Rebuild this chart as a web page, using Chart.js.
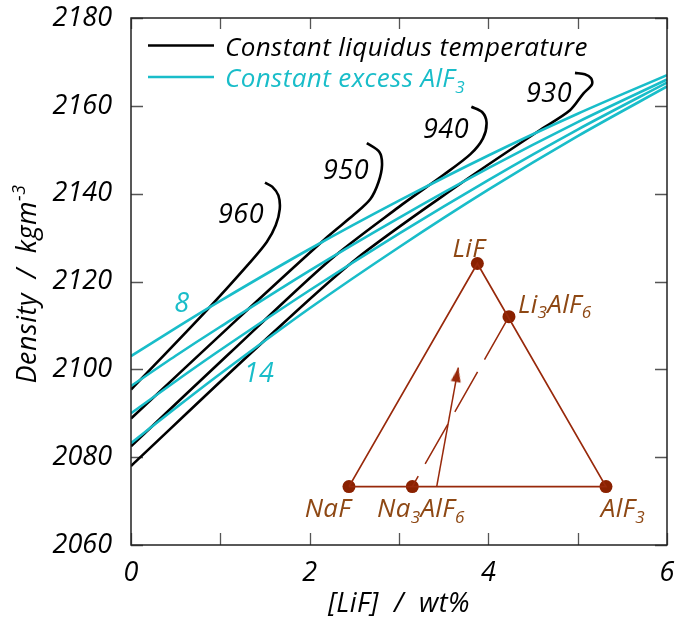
<!DOCTYPE html>
<html>
<head>
<meta charset="utf-8">
<script src="https://cdn.jsdelivr.net/npm/chart.js@4.4.1/dist/chart.umd.min.js"></script>
<style>
  html, body { margin: 0; padding: 0; background: #fff; }
  canvas { display: block; }
</style>
</head>
<body>
<canvas id="graf" width="675" height="617"></canvas>
<script>
// axes
const xTicks = [0, 1, 2, 3, 4, 5, 6];
const xTickLabels = [0, 2, 4, 6];
const yTicks = [2060, 2080, 2100, 2120, 2140, 2160, 2180];

// constant liquidus temperature (black), [LiF] wt% vs density
const t960X = [0, 0.85, 1.33, 1.52, 1.62, 1.665, 1.65, 1.58, 1.5];
const t960Y = [2095.4, 2113.5, 2124.3, 2129, 2132.8, 2136.5, 2139.6, 2141.6, 2142.5];
const t950X = [0, 1.2, 2.2, 2.5, 2.68, 2.77, 2.81, 2.78, 2.64];
const t950Y = [2088.8, 2111.6, 2130.2, 2135.3, 2138.8, 2142.6, 2146.5, 2149.5, 2151.5];
const t940X = [0, 1.1, 2.228, 3.0, 3.5, 3.8, 3.94, 3.98, 3.93, 3.81];
const t940Y = [2082.5, 2103.6, 2124.9, 2137.0, 2144.3, 2149.0, 2152.6, 2156.2, 2158.6, 2159.8];
const t930X = [0, 1.422, 2.5, 3.683, 4.579, 4.914, 5.063, 5.16, 5.15, 5.08, 4.97];
const t930Y = [2078, 2105.2, 2124.8, 2142.2, 2154.5, 2159, 2162.8, 2164.9, 2166.3, 2167.2, 2167.5];
const tempLabels = ['960', '950', '940', '930'];
const tempLabelX = [1.231, 2.407, 3.526, 4.679];
const tempLabelY = [2135.6, 2145.6, 2154.9, 2163.1];

// constant excess AlF3 (cyan)
const exX = [0, 0.5, 1, 2, 3, 4, 5, 6];
const ex8Y = [2103, 2109.4, 2115.6, 2127.4, 2138.4, 2148.7, 2158.2, 2167];
const ex10Y = [2096.2, 2103.1, 2109.7, 2122.5, 2134.5, 2145.8, 2156.3, 2166];
const ex12Y = [2090, 2097.3, 2104.4, 2118.0, 2130.9, 2143.1, 2154.6, 2165.3];
const ex14Y = [2083.2, 2091.2, 2099.0, 2113.9, 2127.8, 2140.9, 2153.1, 2164.4];
const excessLabels = ['8', '14'];
const excessLabelX = [0.571, 1.433];
const excessLabelY = [2115.2, 2099.4];

// ternary inset NaF - LiF - AlF3
const triX = [2.44, 3.877, 5.317, 2.44];
const triY = [2073.3, 2124.1, 2073.3, 2073.3];
const dotX = [2.44, 3.149, 5.317, 3.877, 4.231];
const dotY = [2073.3, 2073.3, 2073.3, 2124.1, 2112.0];
const joinX = [3.149, 4.231];
const joinY = [2073.3, 2112.0];
const arrowX = [3.422, 3.664];
const arrowY = [2073.3, 2100.4];
const triLabels = ['LiF', 'Li_{3}AlF_{6}', 'NaF', 'Na_{3}AlF_{6}', 'AlF_{3}'];
const triLabelX = [3.78, 4.743, 2.204, 3.245, 5.506];
const triLabelY = [2127.7, 2115.0, 2068.5, 2068.5, 2068.5];

const legendLabels = ['Constant liquidus temperature', 'Constant excess AlF_{3}'];
const xTitle = '[LiF]  /  wt%';
const yTitle = 'Density  /  kgm^{-3}';

const BLACK = '#000000';
const CYAN = '#19BDC9';
const BROWN = '#98290B';
const DOT = '#8A2100';
const TEXTBROWN = '#8E4814';
const FONT = '"Open Sans"';

function pts(xs, ys) { return xs.map((x, i) => ({ x: x, y: ys[i] })); }

// splits "AlF_{3}" into pieces: 0 normal, -1 sub, 1 sup
function parts(str) {
  const out = [];
  const re = /([_^])\{([^}]*)\}/g;
  let last = 0, m;
  while ((m = re.exec(str)) !== null) {
    if (m.index > last) out.push([str.slice(last, m.index), 0]);
    out.push([m[2], m[1] === '_' ? -1 : 1]);
    last = re.lastIndex;
  }
  if (last < str.length) out.push([str.slice(last), 0]);
  return out;
}

function richWidth(ctx, str, size) {
  let w = 0;
  for (const [t, mode] of parts(str)) {
    ctx.font = 'italic ' + (mode ? size * 0.66 : size) + 'px ' + FONT;
    w += ctx.measureText(t).width;
  }
  return w;
}

function drawRich(ctx, str, x, y, size, align, spacing) {   // y = baseline
  ctx.letterSpacing = (spacing || 0) + 'px';
  const w = richWidth(ctx, str, size);
  let cx = align === 'center' ? x - w / 2 : align === 'right' ? x - w : x;
  ctx.textAlign = 'left';
  ctx.textBaseline = 'alphabetic';
  for (const [t, mode] of parts(str)) {
    const s = mode ? size * 0.66 : size;
    ctx.font = 'italic ' + s + 'px ' + FONT;
    const dy = mode === -1 ? size * 0.22 : mode === 1 ? -size * 0.4 : 0;
    ctx.fillText(t, cx, y + dy);
    cx += ctx.measureText(t).width;
  }
  ctx.letterSpacing = '0px';
}

// arrow head as an image point style, tip at the centre
const head = document.createElement('canvas');
head.width = 11; head.height = 30;
(function () {
  const c = head.getContext('2d');
  c.fillStyle = BROWN;
  c.beginPath();
  c.moveTo(5.5, 15);
  c.lineTo(10.5, 29.5);
  c.lineTo(0.5, 29.5);
  c.closePath();
  c.fill();
})();

const framePlugin = {
  id: 'frame',
  beforeDatasetsDraw(chart) {
    const ctx = chart.ctx, a = chart.chartArea;
    const sx = chart.scales.x, sy = chart.scales.y;
    ctx.save();
    ctx.strokeStyle = '#555';
    ctx.lineWidth = 1.3;
    ctx.beginPath();
    xTicks.forEach(v => {
      const p = Math.round(sx.getPixelForValue(v)) + 0.5;
      ctx.moveTo(p, a.bottom); ctx.lineTo(p, a.bottom - 12);
      ctx.moveTo(p, a.top); ctx.lineTo(p, a.top + 11);
    });
    yTicks.forEach(v => {
      const p = Math.round(sy.getPixelForValue(v)) + 0.5;
      ctx.moveTo(a.left, p); ctx.lineTo(a.left + 12, p);
      ctx.moveTo(a.right, p); ctx.lineTo(a.right - 12, p);
    });
    ctx.stroke();
    ctx.restore();
  },
  afterDatasetsDraw(chart) {
    const ctx = chart.ctx, a = chart.chartArea;
    const sx = chart.scales.x, sy = chart.scales.y;
    ctx.save();
    // frame
    ctx.strokeStyle = '#222';
    ctx.lineWidth = 1.5;
    ctx.strokeRect(a.left, a.top, a.right - a.left, a.bottom - a.top);

    // legend
    const legColors = [BLACK, CYAN];
    legendLabels.forEach((lab, i) => {
      const ly = a.top + 27.5 + i * 31.5;
      ctx.strokeStyle = legColors[i];
      ctx.lineWidth = 2.6;
      ctx.beginPath();
      ctx.moveTo(a.left + 17, ly); ctx.lineTo(a.left + 83, ly);
      ctx.stroke();
      ctx.fillStyle = legColors[i];
      drawRich(ctx, lab, a.left + 94, ly + 10, 26, 'left', 0.4);
    });

    // curve labels
    ctx.fillStyle = BLACK;
    tempLabels.forEach((lab, i) => {
      drawRich(ctx, lab, sx.getPixelForValue(tempLabelX[i]), sy.getPixelForValue(tempLabelY[i]) + 9.6, 27, 'center', 0.5);
    });
    ctx.fillStyle = CYAN;
    excessLabels.forEach((lab, i) => {
      drawRich(ctx, lab, sx.getPixelForValue(excessLabelX[i]), sy.getPixelForValue(excessLabelY[i]) + 9.6, 27, 'center', 0.5);
    });

    // inset labels
    ctx.fillStyle = TEXTBROWN;
    triLabels.forEach((lab, i) => {
      drawRich(ctx, lab, sx.getPixelForValue(triLabelX[i]), sy.getPixelForValue(triLabelY[i]) + 9.2, 26, 'center', 0.3);
    });

    // axis titles
    ctx.fillStyle = BLACK;
    drawRich(ctx, xTitle, (a.left + a.right) / 2, 612, 27, 'center', 0.5);
    ctx.translate(36, 284);
    ctx.rotate(-Math.PI / 2);
    drawRich(ctx, yTitle, 0, 0, 27, 'center', 0.5);
    ctx.restore();
  }
};

function line(xs, ys, color, width, order) {
  return {
    data: pts(xs, ys), showLine: true, borderColor: color, borderWidth: width,
    pointRadius: 0, tension: 0.3, order: order
  };
}

function draw() {
  const tickFont = { family: 'Open Sans', style: 'italic', size: 27 };
  const datasets = [
    line(exX, ex8Y, CYAN, 2.6, 1),
    line(exX, ex10Y, CYAN, 2.6, 1),
    line(exX, ex12Y, CYAN, 2.6, 1),
    line(exX, ex14Y, CYAN, 2.6, 1),
    line(t960X, t960Y, BLACK, 2.6, 2),
    line(t950X, t950Y, BLACK, 2.6, 2),
    line(t940X, t940Y, BLACK, 2.6, 2),
    line(t930X, t930Y, BLACK, 2.6, 2),
    { data: pts(triX, triY), showLine: true, borderColor: BROWN, borderWidth: 1.7, pointRadius: 0, tension: 0, order: 0 },
    { data: pts(joinX, joinY), showLine: true, borderColor: BROWN, borderWidth: 1.5, borderDash: [46, 14], borderDashOffset: 34, pointRadius: 0, tension: 0, order: 0 },
    { data: pts(arrowX, arrowY), showLine: true, borderColor: BROWN, borderWidth: 1.5, pointRadius: 0, tension: 0, order: 0 },
    {
      data: pts([arrowX[1]], [arrowY[1]]), showLine: false, pointStyle: head, pointRadius: 5,
      rotation: (c) => {
        const ch = c.chart;
        if (!ch.scales || !ch.scales.x) return 0;
        const dx = ch.scales.x.getPixelForValue(arrowX[1]) - ch.scales.x.getPixelForValue(arrowX[0]);
        const dy = ch.scales.y.getPixelForValue(arrowY[1]) - ch.scales.y.getPixelForValue(arrowY[0]);
        return Math.atan2(dx, -dy) * 180 / Math.PI;
      },
      order: 0
    },
    { data: pts(dotX, dotY), showLine: false, pointRadius: 6.5, pointBackgroundColor: DOT, pointBorderWidth: 0, order: 0 }
  ];

  new Chart(document.getElementById('graf'), {
    type: 'scatter',
    data: { datasets: datasets },
    options: {
      responsive: false,
      animation: false,
      devicePixelRatio: 1,
      layout: { autoPadding: false, padding: { left: 0, right: 8, top: 18, bottom: 22 } },
      plugins: { legend: { display: false }, tooltip: { enabled: false } },
      scales: {
        x: {
          type: 'linear', min: 0, max: 6,
          grid: { display: false }, border: { display: false },
          ticks: {
            stepSize: 1, padding: 4, color: '#000', font: tickFont, maxRotation: 0, autoSkip: false,
            callback: v => xTickLabels.includes(v) ? String(v) : ''
          },
          afterFit: s => { s.height = 50; s.paddingLeft = 0; s.paddingRight = 0; }
        },
        y: {
          type: 'linear', min: 2060, max: 2180,
          grid: { display: false }, border: { display: false },
          ticks: { stepSize: 20, padding: 11, color: '#000', font: tickFont, callback: v => String(v) },
          afterFit: s => { s.width = 131; s.paddingTop = 0; s.paddingBottom = 0; }
        }
      }
    },
    plugins: [framePlugin]
  });
}

if (document.fonts && document.fonts.load) {
  Promise.all([
    document.fonts.load('italic 27px "Open Sans"'),
    document.fonts.load('italic 17px "Open Sans"')
  ]).then(draw, draw);
} else {
  draw();
}
</script>
</body>
</html>
